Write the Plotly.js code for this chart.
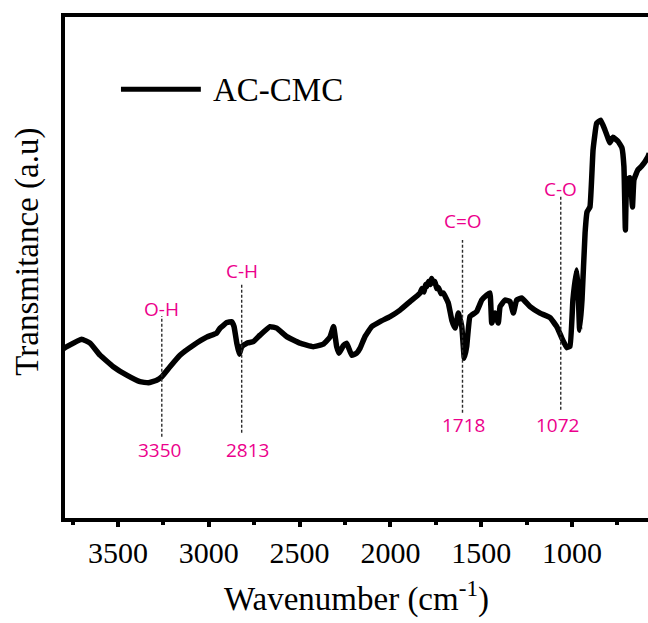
<!DOCTYPE html>
<html>
<head>
<meta charset="utf-8">
<script src="https://cdn.plot.ly/plotly-3.0.1.min.js"></script>
<style>
  html, body { margin: 0; padding: 0; background: #ffffff; }
  #chart { width: 648px; height: 623px; }
</style>
</head>
<body>
<div id="chart"></div>
<script>
// FTIR spectrum of AC-CMC (wavenumber in cm^-1, transmittance in arbitrary units)
const wavenumber = [3800, 3782, 3700, 3654, 3599, 3526, 3452, 3379, 3333, 3287,
  3259, 3214, 3159, 3085, 3012, 2957, 2938, 2901, 2874, 2861,
  2846, 2832, 2819, 2791, 2755, 2718, 2663, 2626, 2571, 2498,
  2425, 2370, 2333, 2313, 2296, 2283, 2259, 2241, 2213, 2186,
  2167, 2140, 2103, 2057, 2002, 1947, 1892, 1837, 1826, 1815,
  1806, 1800, 1790, 1781, 1773, 1765, 1755, 1745, 1735, 1722,
  1709, 1681, 1662, 1644, 1626, 1607, 1593, 1580, 1562, 1525,
  1497, 1470, 1452, 1442, 1424, 1406, 1396, 1369, 1341, 1323,
  1305, 1277, 1231, 1176, 1121, 1084, 1057, 1029, 1011, 995,
  975, 967, 958, 945, 928, 917, 901, 884, 864, 842,
  818, 791, 774, 747, 725, 714, 706, 697, 681, 667,
  659, 637, 615, 582, 575];
const transmittance = [33.8, 34.2, 35.7, 34.9, 32.5, 30.2, 28.5, 27.2, 27.0, 27.5,
  28.2, 30.2, 32.5, 34.5, 36.1, 36.9, 37.9, 39.0, 39.2, 38.2,
  34.9, 32.7, 34.2, 34.9, 35.2, 36.5, 38.2, 37.9, 36.2, 34.9,
  34.2, 34.7, 36.1, 38.2, 34.2, 32.9, 34.4, 34.9, 32.5, 32.9,
  33.9, 36.2, 38.2, 39.2, 40.2, 41.5, 43.2, 44.9, 45.8, 45.1,
  46.6, 46.2, 47.2, 46.6, 47.8, 46.9, 47.2, 45.8, 46.0, 44.8,
  44.9, 42.9, 39.5, 37.9, 40.9, 38.2, 31.9, 34.2, 40.2, 41.2,
  43.5, 44.5, 44.9, 38.9, 40.9, 38.9, 42.2, 43.5, 43.2, 40.9,
  43.5, 43.9, 42.2, 40.9, 40.0, 38.2, 36.0, 34.0, 34.3, 43.5,
  49.5, 46.1, 37.5, 43.5, 56.9, 61.1, 62.1, 73.5, 78.8, 79.4,
  77.4, 74.9, 76.0, 75.2, 73.9, 70.1, 57.5, 67.5, 67.9, 62.1,
  67.5, 69.5, 70.3, 72.1, 72.8];

// Band assignments: guide position, bond and quoted wavenumber
const bandWavenumber = [3259, 2819, 1603, 1062];
const bandBond = ['O-H', 'C-H', 'C=O', 'C-O'];
const bandLabel = ['3350', '2813', '1718', '1072'];
const seriesName = 'AC-CMC';

// vertical extents of the dashed guides and label placement (y units)
const guideTop = [40.3, 46.7, 55.5, 64.5];
const guideBottom = [16.2, 17.0, 21.0, 21.6];
const bondY = [41.7, 49.3, 59.3, 65.7];
const labelY = [13.6, 13.6, 18.6, 18.6];
const labelShift = [-2, 6, 1, -3];

const serif = 'Liberation Serif, Times New Roman, serif';
const pink = '#ec008c';

const trace = {
  x: wavenumber,
  y: transmittance,
  type: 'scatter',
  mode: 'lines',
  name: seriesName,
  line: { color: '#000000', width: 5.5, shape: 'spline', smoothing: 0.3 },
  showlegend: false,
  hoverinfo: 'x+y'
};

const shapes = [];
const annotations = [];
bandWavenumber.forEach((w, i) => {
  shapes.push({
    type: 'line', xref: 'x', yref: 'y',
    x0: w, x1: w, y0: guideBottom[i], y1: guideTop[i],
    line: { color: '#2b2b2b', width: 1.4, dash: '3px,2px' }
  });
  annotations.push({
    xref: 'x', yref: 'y', x: w, y: bondY[i], text: bandBond[i],
    showarrow: false, xanchor: 'center', yanchor: 'middle',
    font: { family: 'Open Sans, Noto Sans, sans-serif', size: 19, color: pink }
  });
  annotations.push({
    xref: 'x', yref: 'y', x: w, y: labelY[i], text: bandLabel[i],
    showarrow: false, xanchor: 'center', yanchor: 'middle', xshift: labelShift[i],
    font: { family: 'Open Sans, Noto Sans, sans-serif', size: 19, color: pink }
  });
});

// legend key: short thick line followed by the series name
shapes.push({
  type: 'line', xref: 'paper', yref: 'paper',
  x0: 0.096, x1: 0.233, y0: 0.856, y1: 0.856,
  line: { color: '#000000', width: 5 }
});
annotations.push({
  xref: 'paper', yref: 'paper', x: 0.250, y: 0.854, text: seriesName,
  showarrow: false, xanchor: 'left', yanchor: 'middle',
  font: { family: serif, size: 33, color: '#000000' }
});

// y-axis title
annotations.push({
  xref: 'paper', yref: 'paper', x: -0.064, y: 0.531,
  text: 'Transmitance (a.u)', textangle: -90,
  showarrow: false, xanchor: 'center', yanchor: 'middle',
  font: { family: serif, size: 33, color: '#000000' }
});

const layout = {
  width: 648,
  height: 623,
  margin: { l: 65, r: 0, t: 17, b: 105 },
  paper_bgcolor: '#ffffff',
  plot_bgcolor: '#ffffff',
  showlegend: false,
  xaxis: {
    range: [3792, 581.5],
    tickmode: 'linear', tick0: 0, dtick: 500,
    ticks: 'outside', ticklen: 5, tickwidth: 4, tickcolor: '#000000',
    minor: { ticks: 'outside', ticklen: 3, tickwidth: 4, tickcolor: '#000000', dtick: 250, tick0: 0, showgrid: false },
    showline: true, linewidth: 4, linecolor: '#000000', mirror: true,
    showgrid: false, zeroline: false,
    tickfont: { family: serif, size: 30, color: '#000000' },
    title: { text: 'Wavenumber (cm<sup>-1</sup>)', font: { family: serif, size: 33, color: '#000000' }, standoff: 20 }
  },
  yaxis: {
    range: [0, 100],
    showline: true, linewidth: 4, linecolor: '#000000', mirror: false,
    showticklabels: false, ticks: '', showgrid: false, zeroline: false
  },
  shapes: shapes,
  annotations: annotations
};

Plotly.newPlot('chart', [trace], layout, { staticPlot: true, displayModeBar: false });
</script>
</body>
</html>
